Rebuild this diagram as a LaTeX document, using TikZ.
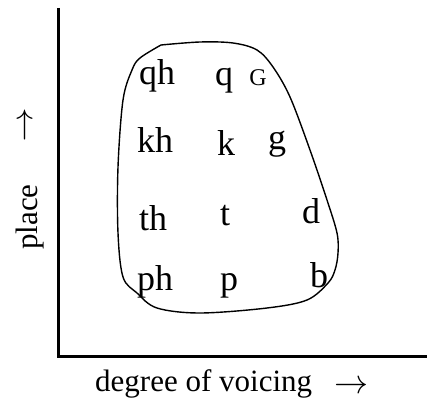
\RequirePackage{fix-cm}
\documentclass[tikz,border=0pt]{standalone}
\usepackage{fontspec}
\setmainfont{Liberation Serif}
\usetikzlibrary{positioning}

\begin{document}
\begin{tikzpicture}[x=1pt, y=1pt,
      phone/.style={inner sep=0pt, anchor=base, font=\fontsize{36}{40}\selectfont},
      smallcap/.style={phone, font=\fontsize{24}{28}\selectfont},
      axislabel/.style={inner sep=0pt, font=\fontsize{31}{36}\selectfont},
      axisarrow/.style={inner sep=0pt, font=\fontsize{34}{38}\selectfont},
      axis/.style={line width=3pt},
      region/.style={line width=1.4pt, line join=round}
    ]
      \useasboundingbox (0,0) rectangle (427,400);
      % axes
      \draw[axis] (58,392) -- (58,44) -- (427,44);
      % region of the stops
      \draw[region] plot[smooth, tension=.55] coordinates {
        (161,355) (200,358) (233,357) (257,350) (273,333) (290,303)
        (310,250) (327,200) (337,167) (338,147) (335,130) (328,117)
        (307,100) (267,92) (200,87) (157,92) (137,107) (123,123)
        (118,167) (118,233) (123,300) (132,330) (140,342) (161,355)};
      % uvular
      \node[phone] (qh) at (157,316) {qh};
      \node[phone] (q) at (224,315) {q};
      \node[smallcap] (G) at (258,315) {G};
      % velar
      \node[phone] (kh) at (155,248) {kh};
      \node[phone] (k) at (226,245) {k};
      \node[phone] (g) at (277,251) {g};
      % dental
      \node[phone] (th) at (153,170) {th};
      \node[phone] (t) at (225,175) {t};
      \node[phone] (d) at (311,177) {d};
      % labial
      \node[phone] (ph) at (155,110) {ph};
      \node[phone] (p) at (229,110) {p};
      \node[phone] (b) at (319,113) {b};
      % axis labels
      \node[axislabel, anchor=base west] (voicing) at (95,9) {degree of voicing};
      \node[axisarrow] (voicingarrow) at (351.5,13) {$\rightarrow$};
      \node[axislabel, rotate=90] (place) at (30.5,183) {place};
      \node[axisarrow] (placearrow) at (25,275) {$\uparrow$};
    \end{tikzpicture}
\end{document}
